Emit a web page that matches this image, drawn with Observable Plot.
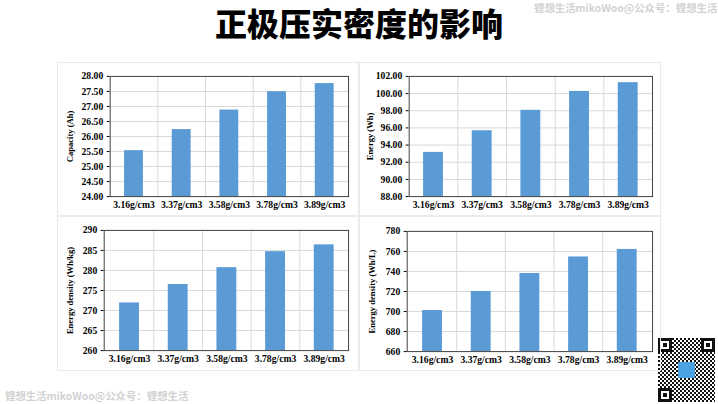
<!DOCTYPE html>
<html><head><meta charset="utf-8">
<script src="https://cdn.jsdelivr.net/npm/d3@7"></script>
<script src="https://cdn.jsdelivr.net/npm/@observablehq/plot@0.6"></script>
<style>
body{margin:0;background:#fff;}
#page{position:relative;width:718px;height:404px;overflow:hidden;background:#fff;}
.title{position:absolute;left:0;width:718px;top:1px;text-align:center;font-family:"Noto Sans CJK SC";font-weight:900;font-size:32px;line-height:42px;color:#000;}
.wm{position:absolute;font-family:"Noto Sans CJK SC";font-weight:bold;font-size:10.4px;line-height:14px;color:#d2d2d2;white-space:nowrap;}
.panel{position:absolute;border:1px solid #ebebeb;box-sizing:border-box;}
.panel svg{position:absolute;left:-1px;top:-1px;}
#qr{position:absolute;left:658px;top:338px;width:57px;height:64px;
 background:
  repeating-conic-gradient(#111 0 25%, #fff 0 50%) 0 0/4px 4px;}
.fp{position:absolute;width:14px;height:14px;border:3px solid #111;background:#fff;box-sizing:border-box;}
.fp::after{content:"";position:absolute;left:2px;top:2px;width:4px;height:4px;background:#111;}
#qrc{position:absolute;left:20px;top:24px;width:17px;height:16px;background:#4aa3e0;}
</style></head>
<body>
<div id="page">
  <div class="title">正极压实密度的影响</div>
  <div class="wm" style="left:534px;top:1px;">锂想生活mikoWoo@公众号：锂想生活</div>
  <div class="wm" style="left:5px;top:389px;">锂想生活mikoWoo@公众号：锂想生活</div>
  <div id="qr"><div class="fp" style="left:0;top:0"></div><div class="fp" style="right:0;top:0"></div><div class="fp" style="left:0;bottom:0"></div><div id="qrc"></div></div>
</div>
<script>
// categories
const densities = ["3.16g/cm3", "3.37g/cm3", "3.58g/cm3", "3.78g/cm3", "3.89g/cm3"];
// series values
const capacityAh = [25.53, 26.23, 26.88, 27.49, 27.76];
const energyWh = [93.15, 95.67, 98.05, 100.25, 101.27];
const densityWhKg = [271.9, 276.5, 280.7, 284.7, 286.4];
const densityWhL = [701, 720, 738, 754.5, 762];
// tick labels
const capacityTicks = [24, 24.5, 25, 25.5, 26, 26.5, 27, 27.5, 28];
const energyTicks = [88, 90, 92, 94, 96, 98, 100, 102];
const whkgTicks = [260, 265, 270, 275, 280, 285, 290];
const whlTicks = [660, 680, 700, 720, 740, 760, 780];
// axis titles
const titles = ["Capacity (Ah)", "Energy (Wh)", "Energy density (Wh/kg)", "Energy density (Wh/L)"];

const panels = [
  {left: 57, top: 62, w: 302, h: 154, ml: 53, mr: 9, mt: 14, mb: 19, tx: 13, vals: capacityAh, ticks: capacityTicks, fmt: ".2f", title: titles[0]},
  {left: 359, top: 62, w: 302, h: 154, ml: 50, mr: 7, mt: 14, mb: 19, tx: 11, vals: energyWh, ticks: energyTicks, fmt: ".2f", title: titles[1]},
  {left: 57, top: 216, w: 302, h: 155, ml: 47, mr: 9, mt: 14, mb: 20, tx: 13, vals: densityWhKg, ticks: whkgTicks, fmt: "d", title: titles[2]},
  {left: 359, top: 216, w: 302, h: 155, ml: 48, mr: 7, mt: 15, mb: 19, tx: 13, vals: densityWhL, ticks: whlTicks, fmt: "d", title: titles[3]}
];

const page = document.getElementById("page");
for (const p of panels) {
  const data = densities.map((c, i) => ({c, v: p.vals[i]}));
  const lo = p.ticks[0], hi = p.ticks[p.ticks.length - 1];
  const step = (p.w - p.ml - p.mr) / densities.length;
  const chart = Plot.plot({
    width: p.w, height: p.h,
    marginLeft: p.ml, marginRight: p.mr, marginTop: p.mt, marginBottom: p.mb,
    style: {fontFamily: "Liberation Serif", fontWeight: "bold", fontSize: "9.7px", color: "#000", background: "transparent", overflow: "visible"},
    x: {domain: densities, padding: 0, label: null, tickSize: 0, tickPadding: 5},
    y: {domain: [lo, hi], ticks: p.ticks, tickFormat: d3.format(p.fmt), label: null, tickSize: 3, tickPadding: 4},
    marks: [
      Plot.ruleY(p.ticks.slice(1, -1), {stroke: "#d9d9d9", strokeWidth: 1}),
      Plot.ruleX(densities.slice(1), {stroke: "#d9d9d9", strokeWidth: 1, dx: -step / 2}),
      Plot.barY(data, {x: "c", y1: lo, y2: "v", fill: "#5B9BD5", insetLeft: 14.5, insetRight: 14.5}),
      Plot.frame({stroke: "#404040", strokeWidth: 1}),
      Plot.text([p.title], {text: d => d, frameAnchor: "left", rotate: -90, dx: -(p.ml - p.tx), fontSize: 8.6, fontWeight: "bold", textAnchor: "middle", fill: "#000"})
    ]
  });
  const div = document.createElement("div");
  div.className = "panel";
  div.style.left = p.left + "px";
  div.style.top = p.top + "px";
  div.style.width = p.w + "px";
  div.style.height = p.h + "px";
  div.appendChild(chart);
  page.appendChild(div);
}
</script>
</body></html>
